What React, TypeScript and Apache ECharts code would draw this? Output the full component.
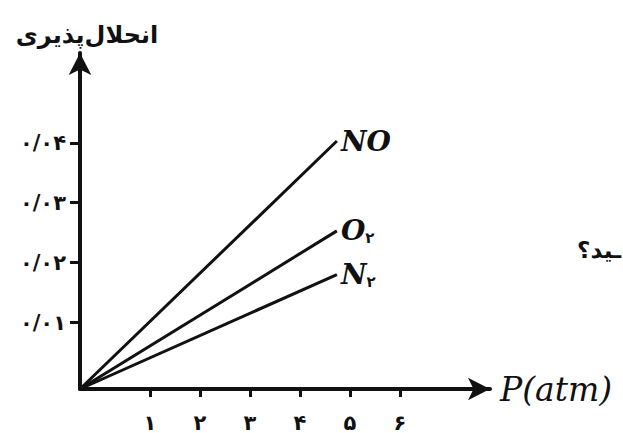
import React, { useEffect, useRef } from "react";
import * as echarts from "echarts";

// Pressure (atm) at which each line is read, and solubility values
const pressure = [0, 5];
const noValues = [0, 0.0414];
const o2Values = [0, 0.0264];
const n2Values = [0, 0.0191];

const seriesNames = ["NO", "O2", "N2"];
const seriesLabels = ["{m|NO}", "{m|O}{s|۲}", "{m|N}{s|۲}"];

const xTickValues = [1, 2, 3, 4, 5, 6];
const xTickLabels = ["۱", "۲", "۳", "۴", "۵", "۶"];
const yTickValues = [0.01, 0.02, 0.03, 0.04];
const yTickLabels = ["۰/۰۱", "۰/۰۲", "۰/۰۳", "۰/۰۴"];

const yAxisTitle = "انحلال‌پذیری";
const xAxisTitle = "P(atm)";
const sideText = "ـید؟";

const INK = "#111111";

function lookup(values: number[], labels: string[], v: number) {
  const i = values.findIndex((t) => Math.abs(t - v) < 1e-6);
  return i >= 0 ? labels[i] : "";
}

export default function App() {
  const ref = useRef<HTMLDivElement>(null);
  useEffect(() => {
    if (!ref.current) return;
    const chart = echarts.init(ref.current, null, { renderer: "svg" });
    const lineData = [noValues, o2Values, n2Values];
    const labelRich = {
      m: {
        fontFamily: "DejaVu Serif",
        fontStyle: "italic",
        fontWeight: "bold",
        fontSize: 28,
        color: INK,
      },
      s: {
        fontFamily: "DejaVu Sans",
        fontWeight: "bold",
        fontSize: 15,
        color: INK,
        verticalAlign: "bottom",
        padding: [14, 0, 0, 0],
      },
    };
    chart.setOption({
      animation: false,
      backgroundColor: "#ffffff",
      grid: { left: 80, right: 133, top: 53, bottom: 36, containLabel: false },
      xAxis: [
        {
          type: "value",
          min: -0.4,
          max: 7.8,
          name: xAxisTitle,
          nameLocation: "end",
          nameGap: 10,
          nameTextStyle: {
            fontFamily: "DejaVu Serif",
            fontStyle: "italic",
            fontSize: 33,
            color: INK,
          },
          axisLine: {
            show: true,
            onZero: false,
            symbol: ["none", "arrow"],
            symbolSize: [17, 22],
            lineStyle: { color: INK, width: 4 },
          },
          axisTick: {
            show: true,
            customValues: xTickValues,
            length: 8,
            inside: false,
            lineStyle: { color: INK, width: 3 },
          },
          axisLabel: {
            show: true,
            customValues: xTickValues,
            margin: 23,
            fontFamily: "DejaVu Sans",
            fontWeight: "bold",
            fontSize: 21,
            color: INK,
            formatter: (v: number) => lookup(xTickValues, xTickLabels, v),
          },
          splitLine: { show: false },
        },
        { type: "value", min: 0, max: 7.98, show: false },
      ],
      yAxis: [
        {
          type: "value",
          min: -0.0011,
          max: 0.055,
          name: yAxisTitle,
          nameLocation: "end",
          nameGap: 6,
          nameTextStyle: {
            fontFamily: "DejaVu Sans",
            fontWeight: "bold",
            fontSize: 24,
            color: INK,
            align: "center",
            padding: [0, 0, 0, 14],
          },
          axisLine: {
            show: true,
            onZero: false,
            symbol: ["none", "arrow"],
            symbolSize: [17, 22],
            lineStyle: { color: INK, width: 4 },
          },
          axisTick: {
            show: true,
            customValues: yTickValues,
            length: 10,
            lineStyle: { color: INK, width: 3 },
          },
          axisLabel: {
            show: true,
            customValues: yTickValues,
            margin: 14,
            fontFamily: "DejaVu Sans",
            fontWeight: "bold",
            fontSize: 21,
            color: INK,
            formatter: (v: number) => lookup(yTickValues, yTickLabels, v),
          },
          splitLine: { show: false },
        },
        { type: "value", min: 0, max: 0.0561, show: false },
      ],
      series: lineData.map((vals, i) => ({
        name: seriesNames[i],
        type: "line",
        xAxisIndex: 1,
        yAxisIndex: 1,
        data: pressure.map((p, j) => [p, vals[j]]),
        showSymbol: false,
        symbol: "none",
        lineStyle: { color: INK, width: 3 },
        endLabel: {
          show: true,
          distance: 4,
          formatter: () => seriesLabels[i],
          rich: labelRich,
        },
      })),
      graphic: [
        {
          type: "text",
          right: 2,
          top: 238,
          style: {
            text: sideText,
            fontFamily: "DejaVu Sans",
            fontWeight: "bold",
            fontSize: 23,
            fill: INK,
          },
        },
      ],
    });
    return () => chart.dispose();
  }, []);
  return <div ref={ref} style={{ width: 623, height: 433, position: "absolute", left: 0, top: 0 }} />;
}
